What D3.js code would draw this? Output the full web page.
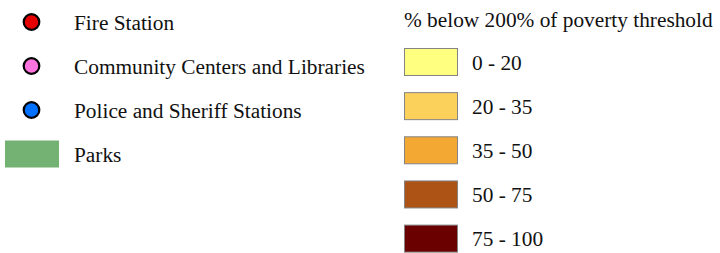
<!DOCTYPE html>
<html>
<head>
<meta charset="utf-8">
<script src="https://cdn.jsdelivr.net/npm/d3@7"></script>
<style>
  html, body { margin: 0; padding: 0; background: #fff; }
  text { font-family: "Liberation Serif", "Times New Roman", serif; font-size: 21.33px; fill: #111; }
</style>
</head>
<body>
<div id="container"></div>
<script>
// map layers legend (left)
const layerNames = ["Fire Station", "Community Centers and Libraries", "Police and Sheriff Stations", "Parks"];
const layerKinds = ["point", "point", "point", "area"];
const layerColors = ["#e60000", "#ff73df", "#0070ff", "#73b273"];

// poverty classes (right)
const povertyTitle = "% below 200% of poverty threshold";
const classLabels = ["0 - 20", "20 - 35", "35 - 50", "50 - 75", "75 - 100"];
const classColors = ["#ffff80", "#fcd15b", "#f2a833", "#ad5315", "#6b0000"];

const width = 720, height = 253;

const svg = d3.create("svg")
    .attr("width", width)
    .attr("height", height)
    .attr("viewBox", [0, 0, width, height]);

/* ---------- left legend ---------- */
const yLeft = d3.scalePoint().domain(layerNames).range([22, 154]);

const left = svg.append("g");
const rows = left.selectAll("g")
    .data(layerNames.map((n, i) => ({name: n, kind: layerKinds[i], color: layerColors[i]})))
    .join("g")
    .attr("transform", d => `translate(0,${yLeft(d.name)})`);

rows.filter(d => d.kind === "point")
    .append("circle")
    .attr("cx", 31.5)
    .attr("r", 7.8)
    .attr("fill", d => d.color)
    .attr("stroke", "#000")
    .attr("stroke-width", 2.2);

rows.filter(d => d.kind === "area")
    .append("rect")
    .attr("x", 5)
    .attr("y", -13.5)
    .attr("width", 54)
    .attr("height", 27)
    .attr("fill", d => d.color);

rows.append("text")
    .attr("x", 74)
    .attr("dy", "0.36em")
    .text(d => d.name);

/* ---------- right legend ---------- */
const right = svg.append("g");

right.append("text")
    .attr("x", 404)
    .attr("y", 27)
    .text(povertyTitle);

const yRight = d3.scalePoint().domain(classLabels).range([62, 238.6]);

const crow = right.selectAll("g.cls")
    .data(classLabels.map((l, i) => ({label: l, color: classColors[i]})))
    .join("g")
    .attr("class", "cls")
    .attr("transform", d => `translate(0,${yRight(d.label)})`);

crow.append("rect")
    .attr("x", 404.5)
    .attr("y", -13.5)
    .attr("width", 53)
    .attr("height", 27)
    .attr("fill", d => d.color)
    .attr("stroke", "#848484")
    .attr("stroke-width", 1);

crow.append("text")
    .attr("x", 472)
    .attr("dy", "0.36em")
    .text(d => d.label);

document.getElementById("container").append(svg.node());
</script>
</body>
</html>
